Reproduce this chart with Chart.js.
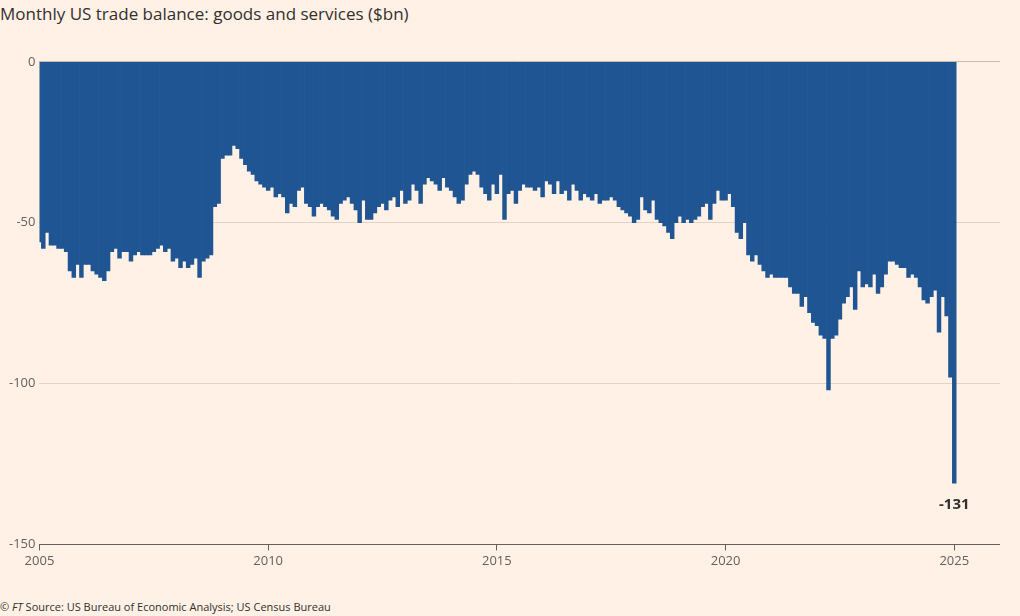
<!DOCTYPE html>
<html><head><meta charset="utf-8">
<script src="https://cdn.jsdelivr.net/npm/chart.js@4.4.1/dist/chart.umd.min.js"></script>
<style>
body{margin:0;background:#fff1e5;font-family:"Open Sans",sans-serif;color:#33302e}
#title{position:absolute;left:0;top:2px;font-size:17px}
#wrap{position:absolute;left:0;top:50px;width:1000px;height:522px}
#src{position:absolute;left:0;top:599px;font-size:11px;color:#33302e}
</style></head><body>
<div id="title">Monthly US trade balance: goods and services ($bn)</div>
<div id="wrap"><canvas id="c"></canvas></div>
<div id="src">© <i>FT</i> Source: US Bureau of Economic Analysis; US Census Bureau</div>
<script>
const startYear = 2005;
const y2005 = [-56,-58,-53,-57,-57,-58,-58,-59,-65,-67,-63,-67];
const y2006 = [-63,-63,-65,-66,-67,-68,-65,-59,-58,-61,-59,-59];
const y2007 = [-62,-60,-59,-60,-60,-60,-59,-58,-57,-59,-58,-62];
const y2008 = [-61,-64,-62,-64,-63,-61,-67,-62,-61,-60,-45,-44];
const y2009 = [-30,-29,-29,-26,-27,-30,-32,-34,-35,-37,-38,-39];
const y2010 = [-40,-39,-42,-41,-42,-47,-44,-45,-40,-39,-44,-45];
const y2011 = [-48,-45,-44,-45,-46,-48,-49,-44,-43,-42,-44,-46];
const y2012 = [-50,-43,-49,-49,-47,-45,-44,-46,-43,-42,-45,-40];
const y2013 = [-44,-43,-38,-40,-44,-38,-36,-37,-38,-40,-36,-39];
const y2014 = [-40,-42,-44,-43,-38,-35,-34,-35,-39,-41,-43,-38];
const y2015 = [-41,-35,-49,-41,-40,-44,-40,-38,-39,-39,-40,-39];
const y2016 = [-42,-37,-38,-41,-37,-41,-40,-43,-38,-40,-43,-41];
const y2017 = [-42,-43,-41,-44,-43,-43,-42,-43,-45,-46,-47,-48];
const y2018 = [-50,-49,-42,-46,-47,-43,-49,-50,-51,-53,-55,-50];
const y2019 = [-48,-50,-49,-50,-49,-48,-45,-44,-49,-44,-40,-43];
const y2020 = [-43,-41,-45,-53,-55,-50,-60,-62,-60,-63,-65,-67];
const y2021 = [-66,-67,-67,-67,-67,-70,-72,-72,-76,-73,-78,-81];
const y2022 = [-82,-85,-86,-102,-86,-85,-80,-75,-73,-70,-77,-65];
const y2023 = [-70,-69,-70,-66,-72,-70,-66,-62,-62,-63,-64,-64];
const y2024 = [-67,-66,-67,-70,-74,-75,-73,-71,-84,-73,-79,-98];
const y2025 = [-131];
const yearTicks = [2005,2010,2015,2020,2025];
const yTicks = [0,-50,-100,-150];

const series = [y2005,y2006,y2007,y2008,y2009,y2010,y2011,y2012,y2013,y2014,y2015,y2016,y2017,y2018,y2019,y2020,y2021,y2022,y2023,y2024,y2025];
const points = [];
series.forEach((yr, i) => yr.forEach((v, m) => points.push({ x: startYear + i + m / 12, y: v })));

const lastLabel = {
  id: 'lastLabel',
  afterDatasetsDraw(chart) {
    const p = points[points.length - 1];
    const ctx = chart.ctx;
    ctx.save();
    ctx.font = 'bold 15px "Open Sans"';
    ctx.fillStyle = '#33302e';
    ctx.textAlign = 'center';
    ctx.fillText(String(p.y), chart.scales.x.getPixelForValue(p.x), chart.scales.y.getPixelForValue(p.y) + 26);
    ctx.restore();
  }
};

new Chart(document.getElementById('c'), {
  type: 'bar',
  data: { datasets: [{ data: points, backgroundColor: '#1f5592', barPercentage: 1, categoryPercentage: 1, grouped: false }] },
  options: {
    responsive: true, maintainAspectRatio: false, animation: false,
    layout: { padding: { left: 5, top: 10, right: 0 } },
    plugins: { legend: { display: false }, tooltip: { enabled: false } },
    scales: {
      x: {
        type: 'linear', min: 2005, max: 2026, offset: false,
        afterBuildTicks(s) { s.ticks = yearTicks.map(v => ({ value: v })); },
        ticks: { color: '#66605c', font: { size: 13, family: 'Open Sans' }, callback: v => v, maxRotation: 0 },
        grid: { offset: false, drawOnChartArea: false, drawTicks: true, tickLength: 6, color: '#66605c' },
        border: { display: true, color: '#66605c' }
      },
      y: {
        min: -150, max: 0,
        afterBuildTicks(s) { s.ticks = yTicks.map(v => ({ value: v })); },
        ticks: { color: '#66605c', font: { size: 13, family: 'Open Sans' }, padding: 4 },
        grid: { color: c => c.tick.value === 0 ? '#c9bcb0' : '#e2d4c6', drawTicks: false },
        border: { display: false }
      }
    }
  },
  plugins: [lastLabel]
});
</script></body></html>
